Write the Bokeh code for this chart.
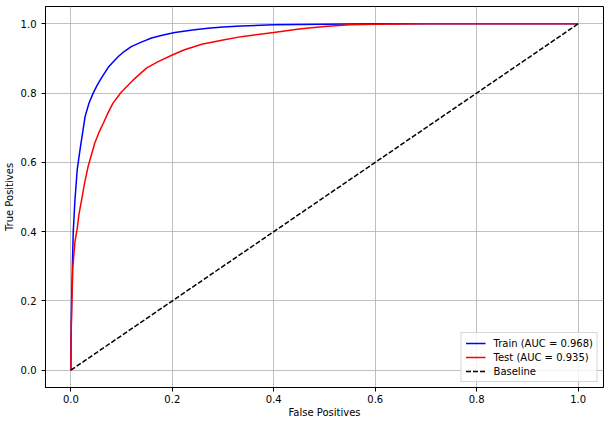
from bokeh.plotting import figure
from bokeh.models import Range1d, FixedTicker, PrintfTickFormatter
from bokeh.embed import file_html
from bokeh.resources import INLINE

# ROC curve data
train_fpr = [0, 0.0005, 0.001, 0.0015, 0.003, 0.0047, 0.008, 0.0126, 0.018, 0.028, 0.036,
             0.044, 0.052, 0.060, 0.075, 0.093, 0.105, 0.119, 0.14, 0.159, 0.18, 0.205,
             0.24, 0.27, 0.30, 0.336, 0.4, 0.5, 0.6, 0.7, 0.8, 0.9, 1.0]
train_tpr = [0, 0.10, 0.15, 0.20, 0.30, 0.40, 0.49, 0.58, 0.636, 0.732, 0.772,
             0.80, 0.823, 0.843, 0.877, 0.905, 0.92, 0.934, 0.948, 0.959, 0.967, 0.975,
             0.982, 0.987, 0.991, 0.994, 0.997, 0.999, 1.0, 1.0, 1.0, 1.0, 1.0]

test_fpr = [0, 0.0005, 0.002, 0.004, 0.008, 0.0126, 0.016, 0.021, 0.027, 0.034, 0.047,
            0.055, 0.064, 0.073, 0.083, 0.10, 0.123, 0.149, 0.172, 0.20, 0.224, 0.258,
            0.30, 0.336, 0.4, 0.45, 0.5, 0.55, 0.6, 0.7, 0.8, 0.9, 1.0]
test_tpr = [0, 0.10, 0.20, 0.30, 0.37, 0.41, 0.45, 0.49, 0.54, 0.588, 0.655,
            0.685, 0.713, 0.742, 0.771, 0.804, 0.838, 0.872, 0.891, 0.91, 0.925, 0.941,
            0.953, 0.963, 0.975, 0.985, 0.992, 0.997, 0.999, 1.0, 1.0, 1.0, 1.0]

base_fpr = [0, 1]
base_tpr = [0, 1]

series_labels = ["Train (AUC = 0.968)", "Test (AUC = 0.935)", "Baseline"]
tick_values = [0.0, 0.2, 0.4, 0.6, 0.8, 1.0]

FONT = "DejaVu Sans"

p = figure(output_backend="svg", toolbar_location=None,
           frame_width=558, frame_height=381,
           min_border_left=44, min_border_right=7, min_border_top=6, min_border_bottom=36,
           x_range=Range1d(-0.05, 1.05), y_range=Range1d(-0.05, 1.05))

p.background_fill_color = "white"
p.border_fill_color = "white"
p.outline_line_color = "black"
p.outline_line_width = 1
p.outline_line_alpha = 1

for ax in (p.xaxis, p.yaxis):
    ax.ticker = FixedTicker(ticks=tick_values)
    ax.formatter = PrintfTickFormatter(format="%.1f")
    ax.minor_tick_line_color = None
    ax.major_tick_in = 0
    ax.major_tick_out = 4
    ax.major_tick_line_color = "black"
    ax.axis_line_color = "black"
    ax.major_label_text_font = FONT
    ax.major_label_text_font_size = "10px"
    ax.major_label_text_color = "black"
    ax.axis_label_text_font = FONT
    ax.axis_label_text_font_size = "10px"
    ax.axis_label_text_font_style = "normal"
    ax.axis_label_text_color = "black"

p.yaxis.major_label_standoff = 5
p.yaxis.axis_label_standoff = 3
p.xaxis.major_label_standoff = 3
p.xaxis.axis_label_standoff = 1

p.xaxis.axis_label = "False Positives"
p.yaxis.axis_label = "True Positives"

p.grid.grid_line_color = "#b0b0b0"
p.grid.grid_line_width = 0.8
p.xgrid.ticker = FixedTicker(ticks=tick_values)
p.ygrid.ticker = FixedTicker(ticks=tick_values)

p.line(train_fpr, train_tpr, line_color="blue", line_width=1.5, legend_label=series_labels[0])
p.line(test_fpr, test_tpr, line_color="red", line_width=1.5, legend_label=series_labels[1])
p.line(base_fpr, base_tpr, line_color="black", line_width=1.5, line_dash="5 2",
       legend_label=series_labels[2])

lg = p.legend[0]
lg.location = "bottom_right"
lg.margin = 5
lg.padding = 4
lg.spacing = 2
lg.glyph_width = 20
lg.glyph_height = 12
lg.label_height = 12
lg.label_standoff = 8
lg.label_text_font = FONT
lg.label_text_font_size = "10px"
lg.label_text_color = "black"
lg.border_line_color = "#cccccc"
lg.border_line_alpha = 0.8
lg.background_fill_alpha = 0.8

open("out.html", "w").write(file_html(p, INLINE))
